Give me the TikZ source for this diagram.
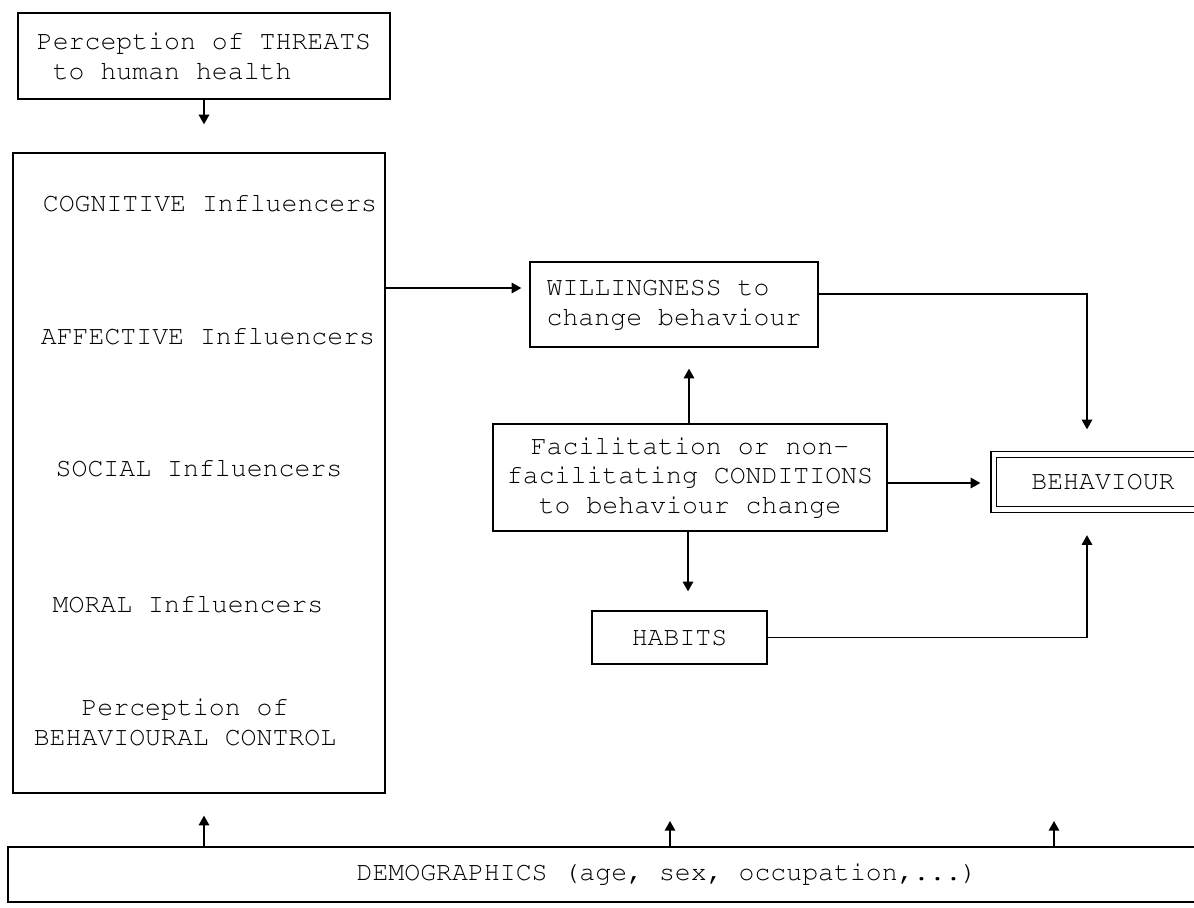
\documentclass[tikz,border=0pt]{standalone}
\usepackage[T1]{fontenc}
\usepackage{courier}
\usetikzlibrary{arrows.meta}

\begin{document}
\begin{tikzpicture}[x=0.02cm,y=-0.02cm,
  every node/.style={font=\ttfamily\fontsize{15.1}{17}\selectfont,inner sep=0pt},
  box/.style={draw,line width=0.8pt,align=center},
  arr/.style={line width=0.8pt,-{Bar[width=0pt,sep=4pt]Triangle[width=6pt,length=5.5pt]}}]
\useasboundingbox (0,0) rectangle (1194,908);
% boxes
\node[box,align=left,minimum width=7.44cm,minimum height=1.72cm] (thr) at (204,56) {Perception of THREATS\\\ to human health};
\node[box,minimum width=7.44cm,minimum height=12.8cm] (infl) at (199,473) {};
\node[anchor=base] (cog) at (210,212) {COGNITIVE Influencers};
\node[anchor=base] (aff) at (208,345) {AFFECTIVE Influencers};
\node[anchor=base] (soc) at (199,477) {SOCIAL Influencers};
\node[anchor=base] (mor) at (188,613) {MORAL Influencers};
\node[align=center] (pbc) at (185,722) {Perception of\\BEHAVIOURAL CONTROL};
\node[box,align=left,minimum width=5.76cm,minimum height=1.7cm] (wil) at (674,304.5) {WILLINGNESS to\\change behaviour};
\node[box,minimum width=7.88cm,minimum height=2.14cm] (cond) at (690,477.5) {Facilitation or non-\\facilitating CONDITIONS\\to behaviour change};
\node[box,minimum width=3.5cm,minimum height=1.06cm] (hab) at (679.5,637.5) {HABITS};
\node[box,double,double distance=2.3pt,minimum width=4.38cm,minimum height=1.1cm] (beh) at (1103,482) {BEHAVIOUR};
\node[box,minimum width=26.36cm,minimum height=1.1cm] (dem) at (667,874.5) {DEMOGRAPHICS (age, sex, occupation,...)};
\coordinate (upB) at (670,821);
\coordinate (upC) at (1054,821);
% arrows
\draw[arr,shorten >=0.56cm] (thr.south) -- (thr.south |- infl.north);
\draw[arr,shorten >=0.16cm] (infl.east |- 0,288) -- (wil.west |- 0,288);
\draw[arr,shorten >=0.49cm] (wil.east |- 0,294) -| (1087,0 |- beh.north);
\draw[arr,shorten >=0.42cm] (cond.north -| 689,0) -- (689,0 |- wil.south);
\draw[arr,shorten >=0.25cm] (cond.east |- 0,483) -- (beh.west |- 0,483);
\draw[arr,shorten >=0.38cm] (cond.south -| 688,0) -- (688,0 |- hab.north);
\draw[arr,shorten >=0.5cm] (hab.east) -| (1087,0 |- beh.south);
\draw[arr,shorten >=0.44cm] (dem.north -| 204,0) -- (204,0 |- infl.south);
\draw[arr] (dem.north -| 670,0) -- (upB);
\draw[arr] (dem.north -| 1054,0) -- (upC);
\end{tikzpicture}
\end{document}
